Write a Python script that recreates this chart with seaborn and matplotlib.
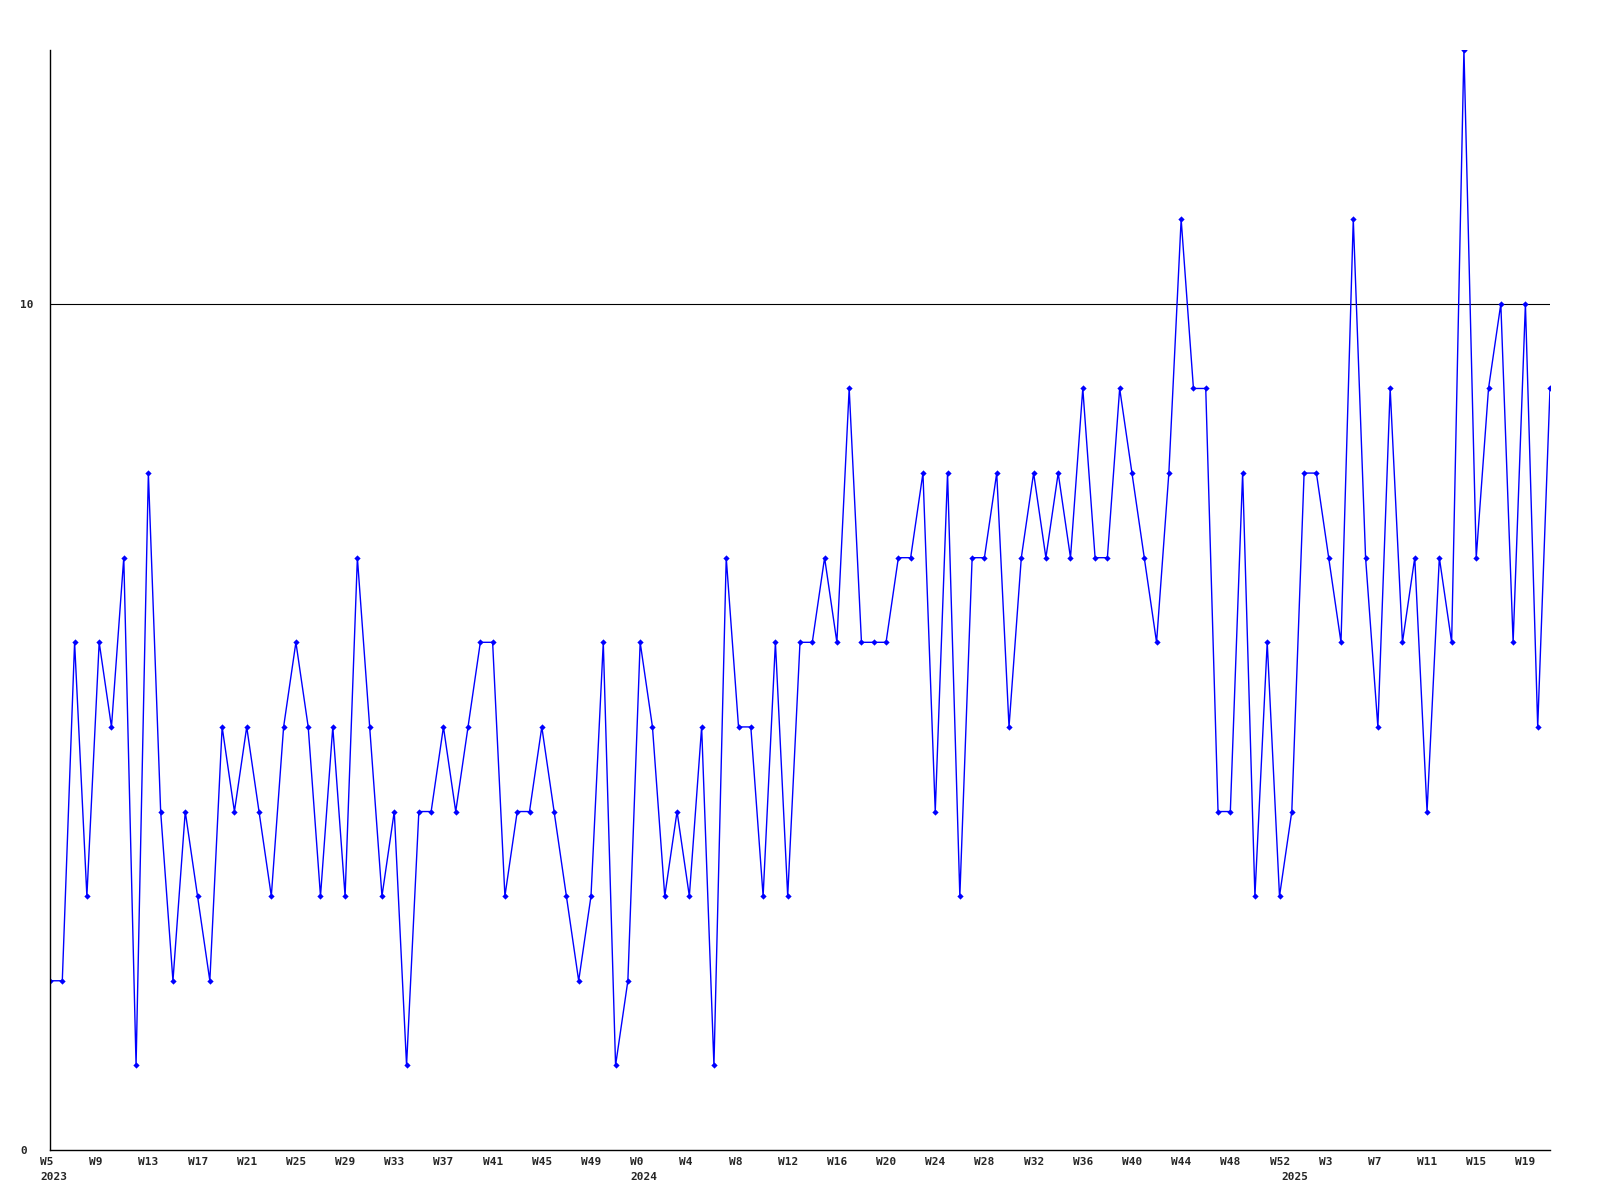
import numpy as np
import pandas as pd
import matplotlib
matplotlib.use("Agg")
import matplotlib.pyplot as plt
import matplotlib.transforms as mtransforms
import seaborn as sns

# -----------------------------
# Theme
# -----------------------------
sns.set_theme(style="white")
plt.rcParams["font.family"] = ["DejaVu Sans Mono"]

# -----------------------------
# Data: weekly counts, W5 2023 .. W21 2025
# -----------------------------
counts_2023_a = [2, 2, 6, 3, 6, 5, 7, 1, 8, 4, 2, 4, 3, 2, 5, 4, 5, 4, 3, 5, 6]
counts_2023_b = [5, 3, 5, 3, 7, 5, 3, 4, 1, 4, 4, 5, 4, 5, 6, 6, 3, 4, 4, 5]
counts_2024_a = [4, 3, 2, 3, 6, 1, 2, 6, 5, 3, 4, 3, 5, 1, 7, 5, 5, 3, 6, 3, 6]
counts_2024_b = [6, 7, 6, 9, 6, 6, 6, 7, 7, 8, 4, 8, 3, 7, 7, 8, 5, 7, 8, 7]
counts_2024_c = [8, 7, 9, 7, 7, 9, 8, 7, 6, 8, 11, 9, 9, 4, 4, 8, 3, 6, 3, 4]
counts_2025 = [8, 8, 7, 6, 11, 7, 5, 9, 6, 7, 4, 7, 6, 13, 7, 9, 10, 6, 10, 5, 9]

week_labels = ["W5", "W9", "W13", "W17", "W21", "W25", "W29", "W33", "W37", "W41",
               "W45", "W49", "W0", "W4", "W8", "W12", "W16", "W20", "W24", "W28",
               "W32", "W36", "W40", "W44", "W48", "W52", "W3", "W7", "W11", "W15", "W19"]
year_labels = ["2023", "2024", "2025"]
year_label_weeks = [0, 48, 101]

values = (counts_2023_a + counts_2023_b + counts_2024_a
          + counts_2024_b + counts_2024_c + counts_2025)
df = pd.DataFrame({"week": np.arange(len(values)), "count": values})

# -----------------------------
# Plot
# -----------------------------
fig = plt.figure(figsize=(16, 12), dpi=100)
ax = fig.add_axes([50 / 1600, 50 / 1200, 1500 / 1600, 1100 / 1200])

ax.axhline(10, color="black", lw=0.8, zorder=1)
sns.lineplot(data=df, x="week", y="count", color="#0000ff", lw=1.0,
             marker="D", markersize=3.2, markeredgewidth=0, ax=ax, zorder=2)

ax.set_xlim(0, len(values) - 1)
ax.set_ylim(0, 13)
ax.set_xlabel("")
ax.set_ylabel("")

# y ticks: only 0 and 10, left aligned at the figure edge
ax.set_yticks([0, 10])
ax.set_yticklabels(["0", "10"], fontsize=8, fontweight="bold")
ax.tick_params(axis="y", length=0, pad=21.6)
for lbl in ax.get_yticklabels():
    lbl.set_horizontalalignment("left")

# x labels: every 4 weeks, left aligned slightly before the point
ax.set_xticks([])
shift = mtransforms.ScaledTranslation(-10 / 100, 0, fig.dpi_scale_trans)
week_trans = ax.get_xaxis_transform() + shift
for i, lab in enumerate(week_labels):
    ax.text(i * 4, -12 / 1100, lab, transform=week_trans, ha="left", va="center",
            fontsize=8, fontweight="bold", clip_on=False)
for wk, lab in zip(year_label_weeks, year_labels):
    ax.text(wk, -27.5 / 1100, lab, transform=week_trans, ha="left", va="center",
            fontsize=8, fontweight="bold", clip_on=False)

for side in ["top", "right"]:
    ax.spines[side].set_visible(False)
for side in ["left", "bottom"]:
    ax.spines[side].set_color("black")
    ax.spines[side].set_linewidth(1.0)

fig.savefig("out.png", dpi=100, facecolor="white")
